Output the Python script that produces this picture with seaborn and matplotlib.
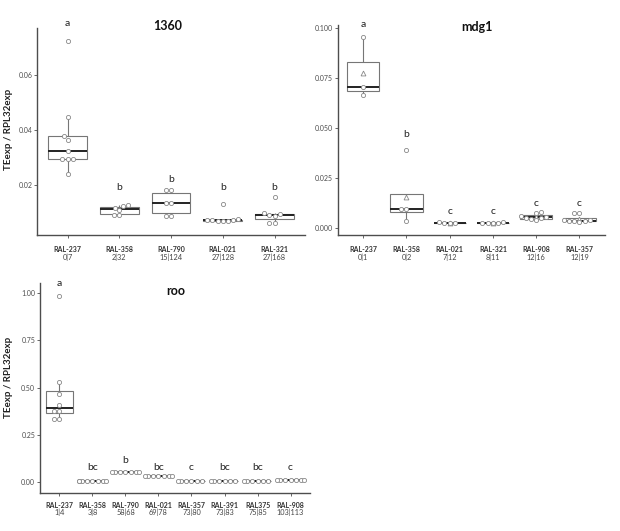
import warnings
import pandas as pd
import matplotlib
matplotlib.use('Agg')
import matplotlib.pyplot as plt
import seaborn as sns

warnings.filterwarnings('ignore')

# ---------------- 1360 ----------------
lines_1360 = ['RAL-237', 'RAL-358', 'RAL-790', 'RAL-021', 'RAL-321']
counts_1360 = ['0|7', '2|32', '15|124', '27|128', '27|168']
letters_1360 = ['a', 'b', 'b', 'b', 'b']
letter_y_1360 = [0.0789, 0.0188, 0.0217, 0.0188, 0.0188]
values_1360 = [
    [0.0728, 0.0449, 0.0378, 0.0365, 0.0322, 0.0295, 0.0295, 0.0295, 0.0237],
    [0.0125, 0.0120, 0.0115, 0.0107, 0.0087, 0.0087],
    [0.0180, 0.0180, 0.0133, 0.0132, 0.0085, 0.0084],
    [0.0129, 0.0074, 0.0069, 0.0068, 0.0068, 0.0067, 0.0066, 0.0065],
    [0.0153, 0.0094, 0.0090, 0.0088, 0.0086, 0.0059, 0.0059],
]

# ---------------- mdg1 ----------------
lines_mdg1 = ['RAL-237', 'RAL-358', 'RAL-021', 'RAL-321', 'RAL-908', 'RAL-357']
counts_mdg1 = ['0|1', '0|2', '7|12', '8|11', '12|16', '12|19']
letters_mdg1 = ['a', 'b', 'c', 'c', 'c', 'c']
letter_y_mdg1 = [0.1021, 0.0465, 0.0080, 0.0080, 0.0122, 0.0122]
values_mdg1 = [
    [0.0955, 0.0704, 0.0668],
    [0.0392, 0.0092, 0.0092, 0.0035],
    [0.0026, 0.0025, 0.0025, 0.0024],
    [0.0026, 0.0025, 0.0025, 0.0025, 0.0024],
    [0.0078, 0.0076, 0.0058, 0.0052, 0.0050, 0.0046, 0.0042, 0.0040],
    [0.0074, 0.0072, 0.0040, 0.0036, 0.0035, 0.0033, 0.0032, 0.0030],
]

# ---------------- roo ----------------
lines_roo = ['RAL-237', 'RAL-358', 'RAL-790', 'RAL-021', 'RAL-357', 'RAL-391', 'RAL375', 'RAL-908']
counts_roo = ['1|4', '3|8', '58|68', '69|78', '73|80', '73|83', '75|85', '103|113']
letters_roo = ['a', 'bc', 'b', 'bc', 'c', 'bc', 'bc', 'c']
letter_y_roo = [1.053, 0.076, 0.115, 0.076, 0.076, 0.076, 0.076, 0.076]
values_roo = [
    [0.987, 0.531, 0.465, 0.407, 0.377, 0.377, 0.331, 0.331],
    [0.005, 0.005, 0.005, 0.005, 0.005, 0.005, 0.005, 0.005],
    [0.049, 0.049, 0.049, 0.049, 0.049, 0.049, 0.049],
    [0.032, 0.032, 0.032, 0.032, 0.032, 0.032, 0.032],
    [0.004, 0.004, 0.004, 0.004, 0.004, 0.004],
    [0.004, 0.004, 0.004, 0.004, 0.004, 0.004],
    [0.002, 0.002, 0.002, 0.002, 0.002, 0.002],
    [0.007, 0.007, 0.007, 0.007, 0.007, 0.007, 0.007],
]

sns.set_style('ticks')
plt.rcParams['font.family'] = ['Lato', 'DejaVu Sans']

BOX_GRAY = '#767676'
DOT_GRAY = '#888888'
AXIS_GRAY = '#4d4d4d'


def draw_panel(ax, lines, counts, values, letters, letter_y, title, title_xy,
               ylim, yticks, yticklabels, box_width, show_mean, name_pad, count_off):
    df = pd.DataFrame([(ln, v) for ln, vals in zip(lines, values) for v in vals],
                      columns=['line', 'value'])
    sns.boxplot(data=df, x='line', y='value', order=lines, ax=ax, width=box_width,
                color='white', linecolor=BOX_GRAY, linewidth=0.8, showfliers=False,
                showcaps=False, whis=1.5, showmeans=show_mean,
                medianprops={'color': '#222222', 'linewidth': 1.4},
                meanprops={'marker': '^', 'markerfacecolor': 'white',
                           'markeredgecolor': DOT_GRAY, 'markersize': 3.5,
                           'markeredgewidth': 0.6})
    sns.swarmplot(data=df, x='line', y='value', order=lines, ax=ax, size=3,
                  color='white', edgecolor=DOT_GRAY, linewidth=0.6, zorder=3)

    ax.set_xlim(-0.59, len(lines) - 0.41)
    ax.set_ylim(*ylim)
    ax.set_yticks(yticks)
    ax.set_yticklabels(yticklabels, fontsize=5, color=AXIS_GRAY)
    ax.set_xticks(range(len(lines)))
    ax.set_xticklabels(lines, fontsize=5, fontweight='bold', color='#333333')
    ax.tick_params(axis='x', length=2, pad=name_pad, color=AXIS_GRAY, width=0.6)
    ax.tick_params(axis='y', length=2, pad=1.5, color=AXIS_GRAY, width=0.6)
    ax.set_xlabel('')
    ax.set_ylabel('')
    for side in ['top', 'right']:
        ax.spines[side].set_visible(False)
    for side in ['left', 'bottom']:
        ax.spines[side].set_color(AXIS_GRAY)
        ax.spines[side].set_linewidth(1.0)

    for i, c in enumerate(counts):
        ax.annotate(c, xy=(i, 0), xycoords=('data', 'axes fraction'),
                    xytext=(0, -count_off), textcoords='offset points',
                    ha='center', va='center', fontsize=5.3, color='#444444')
    for i, (lt, ly) in enumerate(zip(letters, letter_y)):
        ax.text(i, ly, lt, ha='center', va='center', fontsize=7.5,
                color='#222222', clip_on=False)
    ax.text(title_xy[0], title_xy[1], title, transform=ax.transAxes,
            ha='center', va='center', fontsize=9, fontweight='bold', color='#111111')


fig = plt.figure(figsize=(6.2, 5.31), dpi=100)
ax1 = fig.add_axes([0.0597, 0.5574, 0.4323, 0.3898])
ax2 = fig.add_axes([0.5447, 0.5574, 0.4311, 0.3955])
ax3 = fig.add_axes([0.0645, 0.0710, 0.4355, 0.3960])

draw_panel(ax1, lines_1360, counts_1360, values_1360, letters_1360, letter_y_1360,
           '1360', (0.489, 1.01), (0.00147, 0.0774), [0.02, 0.04, 0.06],
           ['0.02', '0.04', '0.06'], 0.75, False, 6.0, 16.3)
draw_panel(ax2, lines_mdg1, counts_mdg1, values_mdg1, letters_mdg1, letter_y_mdg1,
           'mdg1', (0.52, 0.99), (-0.0037, 0.1017), [0.0, 0.025, 0.05, 0.075, 0.1],
           ['0.000', '0.025', '0.050', '0.075', '0.100'], 0.75, True, 6.0, 16.3)
draw_panel(ax3, lines_roo, counts_roo, values_roo, letters_roo, letter_y_roo,
           'roo', (0.5026, 0.963), (-0.0616, 1.055), [0.0, 0.25, 0.5, 0.75, 1.0],
           ['0.00', '0.25', '0.50', '0.75', '1.00'], 0.82, False, 4.5, 13.9)

for ax, yx, yy in [(ax1, -0.09, 0.512), (ax3, -0.10, 0.55)]:
    ax.set_ylabel('TEexp / RPL32exp', fontsize=7, fontweight='bold', color='#222222')
    ax.yaxis.set_label_coords(yx, yy)

fig.savefig('out.png', dpi=100, facecolor='white')
